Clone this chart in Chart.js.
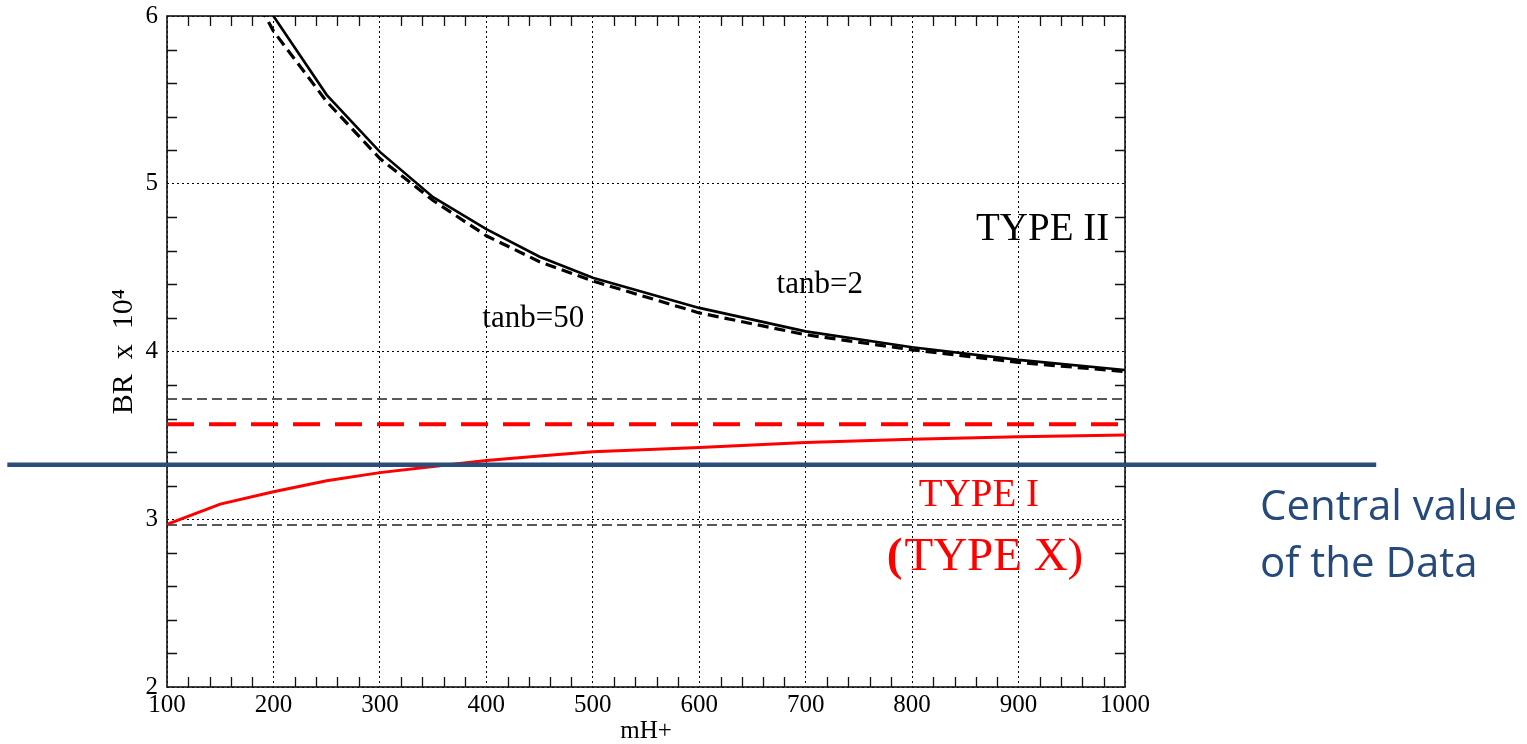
<!DOCTYPE html>
<html><head><meta charset="utf-8">
<script src="https://cdn.jsdelivr.net/npm/chart.js@4.4.0/dist/chart.umd.min.js"></script>
<style>html,body{margin:0;padding:0;background:#fff;overflow:hidden}#wrap{width:1527px;height:744px;position:relative}</style>
</head><body><div id="wrap"><canvas id="c" width="1527" height="744"></canvas></div>
<script>
// ---- data ----
const massTanb2  = [150, 200, 250, 300, 350, 400, 450, 500, 600, 700, 800, 900, 1000];
const brTanb2    = [6.65, 6.00, 5.53, 5.19, 4.92, 4.73, 4.565, 4.44, 4.26, 4.12, 4.025, 3.95, 3.89];
const massTanb50 = [150, 200, 250, 300, 350, 400, 450, 500, 600, 700, 800, 900, 1000];
const brTanb50   = [6.50, 5.91, 5.49, 5.15, 4.90, 4.69, 4.535, 4.42, 4.23, 4.10, 4.01, 3.935, 3.88];
const massType1  = [100, 150, 200, 250, 300, 350, 400, 450, 500, 600, 700, 800, 900, 1000];
const brType1    = [2.97, 3.09, 3.164, 3.23, 3.278, 3.314, 3.35, 3.377, 3.403, 3.428, 3.458, 3.477, 3.492, 3.502];
const massRange  = [100, 1000];
const brUpperBand = [3.717, 3.717];
const brLowerBand = [2.966, 2.966];
const brType1Flat = [3.566, 3.566];
const centralRange = [-50, 1236];
const centralValue = [3.325, 3.325];
const xTickValues = [100, 200, 300, 400, 500, 600, 700, 800, 900, 1000];
const yTickValues = [2, 3, 4, 5, 6];

const pts = (xs, ys) => xs.map((x, i) => ({x, y: ys[i]}));

const SERIF = '"Liberation Serif", "Times New Roman", serif';

const labels = [
  {text: 'TYPE II', x: 860, y: 4.665, size: 39, color: '#000'},
  {text: 'tanb=2', x: 672.7, y: 4.349, size: 31, color: '#000'},
  {text: 'tanb=50', x: 396.2, y: 4.146, size: 31, color: '#000'},
  {text: 'TYPE I', x: 806.3, y: 3.079, size: 39, color: '#ff0000'},
  {text: 'TYPE X)', prefix: '(', x: 776.2, y: 2.697, size: 47, color: '#ff0000'}
];

const decor = {
  id: 'decor',
  beforeDatasetsDraw(chart) {
    const {ctx, chartArea: a, scales: {x, y}} = chart;
    ctx.save();
    ctx.strokeStyle = '#111';
    ctx.lineWidth = 1.3;
    const L = 10;
    ctx.beginPath();
    for (let v = 120; v < 1000; v += 20) {
      if (v % 100 === 0) continue;
      const px = Math.round(x.getPixelForValue(v)) + 0.5;
      ctx.moveTo(px, a.bottom); ctx.lineTo(px, a.bottom - L);
      ctx.moveTo(px, a.top); ctx.lineTo(px, a.top + L);
    }
    for (let i = 1; i < 20; i++) {
      if (i % 5 === 0) continue;
      const py = Math.round(y.getPixelForValue(2 + i * 0.2)) + 0.5;
      ctx.moveTo(a.left, py); ctx.lineTo(a.left + L, py);
      ctx.moveTo(a.right, py); ctx.lineTo(a.right - L, py);
    }
    ctx.stroke();
    ctx.lineWidth = 1.6;
    ctx.strokeStyle = '#111';
    ctx.strokeRect(a.left, a.top, a.right - a.left, a.bottom - a.top);
    ctx.restore();
  },
  afterDatasetsDraw(chart) {
    const {ctx, scales: {x, y}} = chart;
    ctx.save();
    ctx.textBaseline = 'alphabetic';
    ctx.textAlign = 'left';
    labels.forEach(l => {
      let px = x.getPixelForValue(l.x);
      const py = y.getPixelForValue(l.y);
      ctx.fillStyle = l.color;
      if (l.prefix) {
        ctx.font = 'bold ' + l.size + 'px ' + SERIF;
        ctx.fillText(l.prefix, px, py);
        px += ctx.measureText(l.prefix).width + 2;
      }
      ctx.font = l.size + 'px ' + SERIF;
      ctx.fillText(l.text, px, py);
    });
    ctx.fillStyle = '#24497A';
    ctx.font = '42px "Open Sans", sans-serif';
    ctx.fillText('Central value', 1260, 520);
    ctx.fillText('of the Data', 1260, 577);
    ctx.restore();
  }
};

new Chart(document.getElementById('c'), {
  type: 'line',
  data: {
    datasets: [
      {data: pts(centralRange, centralValue), borderColor: '#2A4D7C', borderWidth: 4.5, clip: false},
      {data: pts(massTanb2, brTanb2), borderColor: '#000', borderWidth: 2.6},
      {data: pts(massTanb50, brTanb50), borderColor: '#000', borderWidth: 3.2, borderDash: [11, 6]},
      {data: pts(massType1, brType1), borderColor: '#ff0000', borderWidth: 3},
      {data: pts(massRange, brType1Flat), borderColor: '#ff0000', borderWidth: 4, borderDash: [27, 15]},
      {data: pts(massRange, brUpperBand), borderColor: '#222', borderWidth: 1.4, borderDash: [10, 5]},
      {data: pts(massRange, brLowerBand), borderColor: '#222', borderWidth: 1.4, borderDash: [10, 5]}
    ]
  },
  options: {
    responsive: false,
    animation: false,
    devicePixelRatio: 1,
    layout: {padding: {top: 16, right: 402, left: 0, bottom: 0}},
    elements: {point: {radius: 0}, line: {tension: 0, borderCapStyle: 'butt'}},
    plugins: {legend: {display: false}, tooltip: {enabled: false}},
    scales: {
      x: {
        type: 'linear', min: 100, max: 1000,
        afterFit: s => { s.height = 57; s.paddingLeft = 0; s.paddingRight = 0; },
        afterBuildTicks: s => { s.ticks = xTickValues.map(v => ({value: v})); },
        ticks: {font: {family: SERIF, size: 25}, color: '#000', padding: 3, maxRotation: 0, callback: v => String(v)},
        grid: {color: '#000', lineWidth: 1, drawTicks: false},
        border: {display: false, dash: [2, 3]},
        title: {display: true, text: 'mH+', color: '#000', font: {family: SERIF, size: 25, lineHeight: 1}, padding: {top: 0, bottom: 0}}
      },
      y: {
        type: 'linear', min: 2, max: 6,
        afterFit: s => { s.width = 167; s.paddingTop = 0; s.paddingBottom = 0; },
        afterBuildTicks: s => { s.ticks = yTickValues.map(v => ({value: v})); },
        ticks: {font: {family: SERIF, size: 25}, color: '#000', padding: 9, callback: v => String(v)},
        grid: {color: '#000', lineWidth: 1, drawTicks: false},
        border: {display: false, dash: [2, 3]},
        title: {display: true, text: 'BR  x  10\u2074', color: '#000', font: {family: SERIF, size: 30, lineHeight: 1}, padding: {top: 109, bottom: 0}}
      }
    }
  },
  plugins: [decor]
});
</script></body></html>
